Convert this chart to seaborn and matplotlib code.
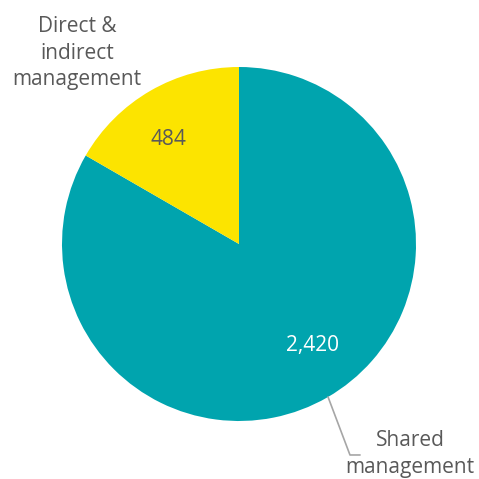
import matplotlib
matplotlib.use("Agg")
import matplotlib.pyplot as plt
import seaborn as sns

# data
categories = ["Shared\nmanagement", "Direct &\nindirect\nmanagement"]
values = [2420, 484]
value_labels = ["2,420", "484"]
colors = ["#00A4AE", "#FCE400"]

sns.set_theme(style="white")
plt.rcParams['font.family'] = ['Open Sans', 'DejaVu Sans']

fig = plt.figure(figsize=(4.79, 4.79), dpi=100)
ax = fig.add_axes([0, 0, 1, 1])

wedges, _ = ax.pie(values, colors=sns.color_palette(colors), startangle=90,
                   counterclock=False, radius=1,
                   wedgeprops=dict(linewidth=0))

ax.set_xlim(-239 / 177, 240 / 177)
ax.set_ylim(-235 / 177, 244 / 177)
ax.set_aspect('equal')
ax.axis('off')

grey = "#595959"
# value labels
ax.text(0.418, -0.571, value_labels[0], color="white", fontsize=15,
        ha="center", va="center")
ax.text(-0.401, 0.588, value_labels[1], color=grey, fontsize=15,
        ha="center", va="center")

# category labels
ax.text(-0.915, 1.079, categories[1], color=grey, fontsize=15,
        ha="center", va="center", linespacing=1.35)
ax.text(0.966, -1.186, categories[0], color=grey, fontsize=15,
        ha="center", va="center", linespacing=1.35)

# leader line
ax.plot([0.503, 0.627, 0.684], [-0.864, -1.192, -1.192], color="#A6A6A6",
        linewidth=1.2, clip_on=False)

fig.savefig("out.png", dpi=100)
